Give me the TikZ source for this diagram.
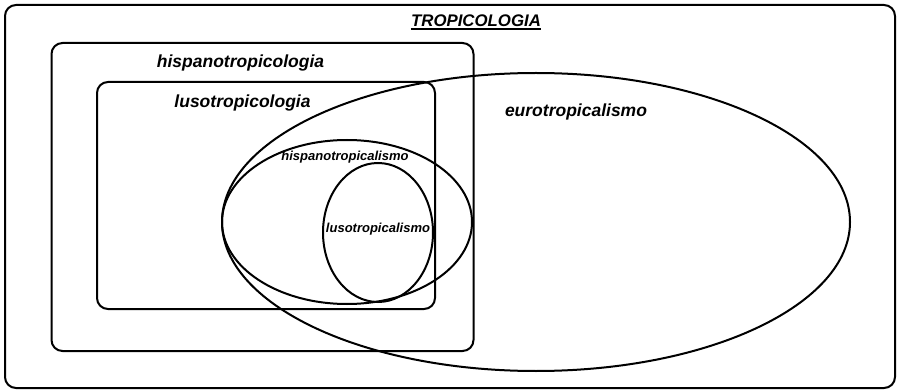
\documentclass[tikz,border=0pt]{standalone}
\usepackage{fontspec}
\setmainfont{Liberation Sans}
\usetikzlibrary{shapes.geometric}
\tikzset{
  frame/.style={draw, line width=2pt, rounded corners=11pt, inner sep=0pt, outer sep=0pt},
  oval/.style={draw, ellipse, line width=2pt, inner sep=0pt, outer sep=0pt},
  biglabel/.style={font=\fontsize{17.5}{17.5}\selectfont\bfseries\itshape, inner sep=0pt},
  smalllabel/.style={font=\fontsize{13}{13}\selectfont\bfseries\itshape, inner sep=0pt},
}
\begin{document}
\begin{tikzpicture}[x=1pt,y=-1pt]
\useasboundingbox (0,0) rectangle (897,390);
\node[frame, minimum width=890pt, minimum height=383pt] (outer) at (450,196.5) {};
\node[frame, minimum width=422pt, minimum height=308pt] (hispano) at (262.5,197) {};
\node[frame, minimum width=338pt, minimum height=227pt] (luso) at (266,195.5) {};
\node[oval, minimum width=628pt, minimum height=298pt] (euro) at (536,222) {};
\node[oval, minimum width=250pt, minimum height=164pt] (hispanotrop) at (347,222) {};
\node[oval, minimum width=110pt, minimum height=139pt] (lusotrop) at (378,232.5) {};
\node[font=\fontsize{16.8}{16.8}\selectfont\bfseries\itshape, inner sep=0pt, anchor=base] (title) at (476,26.5) {TROPICOLOGIA};
\coordinate (ulA) at ([yshift=-2.6pt]title.base west);
\coordinate (ulB) at ([yshift=-2.6pt]title.base east);
\draw[line width=1.8pt] (ulA) -- (ulB);
\node[biglabel] (lhispano) at (240.5,63) {hispanotropicologia};
\node[biglabel] (lluso) at (242.5,103) {lusotropicologia};
\node[biglabel] (leuro) at (576,112) {eurotropicalismo};
\node[smalllabel] (lhispanotrop) at (345,157) {hispanotropicalismo};
\node[smalllabel] (llusotrop) at (378,229) {lusotropicalismo};
\end{tikzpicture}
\end{document}
